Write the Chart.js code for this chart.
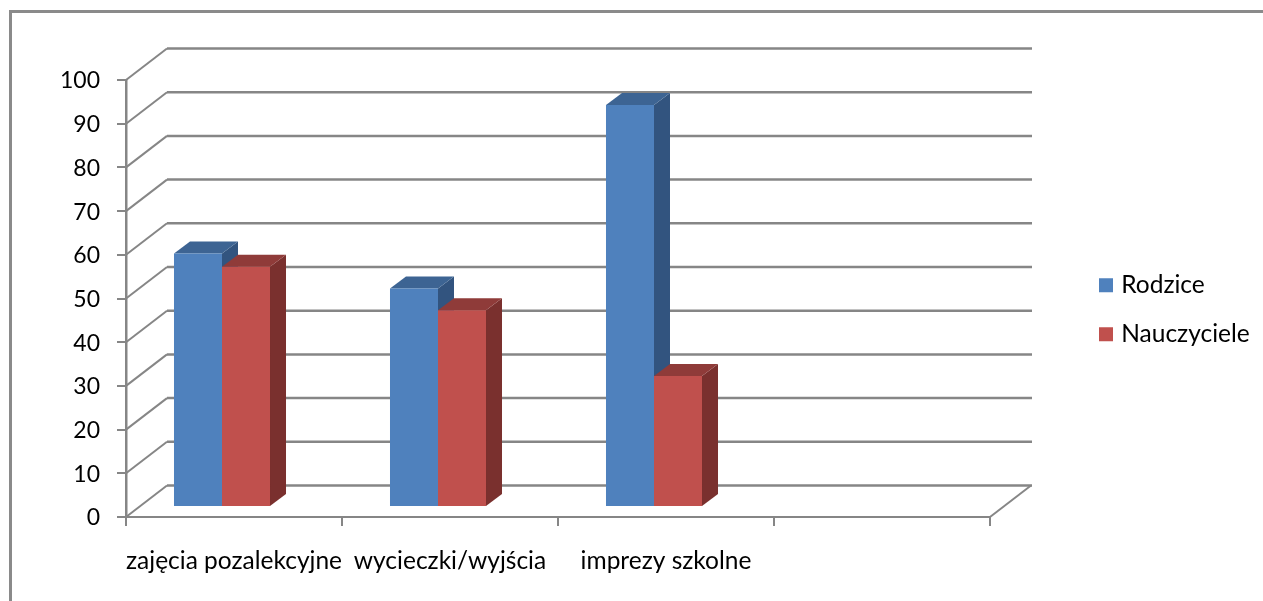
<!DOCTYPE html>
<html>
<head>
<meta charset="utf-8">
<style>
  html, body { margin: 0; padding: 0; background: #fff; overflow: hidden; }
  canvas { display: block; }
</style>
<script src="https://cdn.jsdelivr.net/npm/chart.js@4/dist/chart.umd.min.js"></script>
</head>
<body>
<canvas id="chart" width="1263" height="601"></canvas>
<script>
var categories = ['zajęcia pozalekcyjne', 'wycieczki/wyjścia', 'imprezy szkolne', ''];
var rodzice = [58, 50, 92, null];
var nauczyciele = [55, 45, 30, null];
var yTicks = [0, 10, 20, 30, 40, 50, 60, 70, 80, 90, 100];

var axisColor = '#868686';
var depthX = 41, depthY = -31.5;   // back wall offset
var barShiftX = -12, barShiftY = -10;   // bars stand a bit behind the front edge
var barDepthX = 16, barDepthY = -12;
var legendBox = 6, legendStroke = 8;

function line(ctx, x1, y1, x2, y2, width) {
  ctx.beginPath();
  ctx.moveTo(x1, y1);
  ctx.lineTo(x2, y2);
  ctx.lineWidth = width;
  ctx.strokeStyle = axisColor;
  ctx.stroke();
}

function face(ctx, color, points) {
  ctx.beginPath();
  ctx.moveTo(points[0][0], points[0][1]);
  for (var i = 1; i < points.length; i++) {
    ctx.lineTo(points[i][0], points[i][1]);
  }
  ctx.closePath();
  ctx.fillStyle = color;
  ctx.fill();
}

var wallPlugin = {
  id: 'wall',
  afterLayout: function (chart) {
    var legend = chart.legend;
    var pad = legend.options.labels.padding;
    legend.left = 1099 + legendStroke / 2 - pad;
    legend.right = legend.left + legend.width;
    legend.top = 273 - pad;
    legend.bottom = legend.top + legend.height;
  },
  beforeDatasetsDraw: function (chart) {
    var ctx = chart.ctx;
    var xs = chart.scales.x;
    var ys = chart.scales.y;

    // frame of the picture, only left and top show
    ctx.save();
    ctx.lineCap = 'butt';
    ctx.beginPath();
    ctx.moveTo(10.5, 601);
    ctx.lineTo(10.5, 11.5);
    ctx.lineTo(1263, 11.5);
    ctx.lineWidth = 3;
    ctx.strokeStyle = '#8a8a8a';
    ctx.stroke();

    yTicks.forEach(function (v) {
      var y = ys.getPixelForValue(v);
      line(ctx, xs.left, y, xs.left + depthX, y + depthY, 2);
      line(ctx, xs.left + depthX, y + depthY, xs.right + depthX + 1, y + depthY, 2.5);
    });
    line(ctx, xs.right, ys.bottom, xs.right + depthX, ys.bottom + depthY, 2);

    // side and top faces first, left series first, so the red front covers the blue side
    ctx.translate(barShiftX, barShiftY);
    chart.data.datasets.forEach(function (ds, index) {
      chart.getDatasetMeta(index).data.forEach(function (bar, i) {
        if (ds.data[i] === null) return;
        var left = bar.x - bar.width / 2;
        var right = bar.x + bar.width / 2;
        face(ctx, ds.sideColor, [
          [right, bar.y], [right + barDepthX, bar.y + barDepthY],
          [right + barDepthX, bar.base + barDepthY], [right, bar.base]
        ]);
        face(ctx, ds.topColor, [
          [left, bar.y], [left + barDepthX, bar.y + barDepthY],
          [right + barDepthX, bar.y + barDepthY], [right, bar.y]
        ]);
      });
    });
    ctx.restore();
  },
  beforeDatasetDraw: function (chart) {
    chart.ctx.save();
    chart.ctx.translate(barShiftX, barShiftY);
  },
  afterDatasetDraw: function (chart) {
    chart.ctx.restore();
  }
};

new Chart(document.getElementById('chart'), {
  type: 'bar',
  plugins: [wallPlugin],
  data: {
    labels: categories,
    datasets: [{
      label: 'Rodzice',
      data: rodzice,
      backgroundColor: '#4F81BD',
      sideColor: '#32547F',
      topColor: '#3D6493',
      clip: false
    }, {
      label: 'Nauczyciele',
      data: nauczyciele,
      backgroundColor: '#C0504D',
      sideColor: '#7A302E',
      topColor: '#8F3B39',
      clip: false
    }]
  },
  options: {
    responsive: false,
    animation: false,
    devicePixelRatio: 1,
    categoryPercentage: 0.4445,
    barPercentage: 1,
    layout: { padding: { left: 0, top: 80, right: 273, bottom: 0 } },
    plugins: {
      title: { display: false },
      tooltip: { enabled: false },
      legend: {
        position: 'chartArea',
        align: 'start',
        labels: {
          boxWidth: legendBox,
          boxHeight: legendBox,
          padding: 24.5,
          color: '#000',
          font: { family: 'Lato', size: 24.5 },
          generateLabels: function (chart) {
            return chart.data.datasets.map(function (ds, i) {
              return {
                text: ds.label,
                fillStyle: ds.backgroundColor,
                strokeStyle: ds.backgroundColor,
                lineWidth: legendStroke,
                datasetIndex: i
              };
            });
          }
        }
      }
    },
    scales: {
      x: {
        afterFit: function (scale) { scale.height = 84; },
        grid: {
          offset: true,
          drawOnChartArea: false,
          drawTicks: true,
          tickLength: 9,
          lineWidth: 2,
          color: axisColor
        },
        border: { color: axisColor, width: 2 },
        ticks: {
          padding: 20,
          maxRotation: 0,
          autoSkip: false,
          color: '#000',
          font: { family: 'Lato', size: 24.5 }
        }
      },
      y: {
        min: 0,
        max: 100,
        afterFit: function (scale) { scale.width = 126; },
        grid: {
          drawOnChartArea: false,
          drawTicks: true,
          tickLength: 9,
          lineWidth: 2,
          color: axisColor
        },
        border: { color: axisColor, width: 2.5 },
        ticks: {
          stepSize: 10,
          padding: 17,
          labelOffset: 1,
          color: '#000',
          font: { family: 'Lato', size: 23 }
        }
      }
    }
  }
});
</script>
</body>
</html>
